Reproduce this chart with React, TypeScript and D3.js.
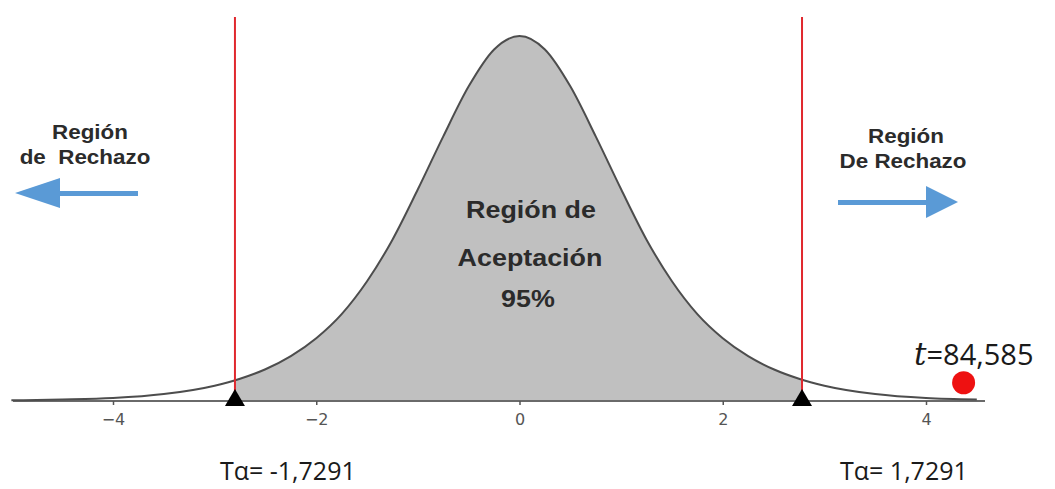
import React, { useEffect, useRef } from 'react';
import * as d3 from 'd3';

// t values along the axis and the curve height (peak = 1)
const tValues = [-5, -4.5, -4, -3.5, -3, -2.75, -2.5, -2.25, -2, -1.75, -1.5, -1.25, -1, -0.75, -0.5, -0.25, 0,
  0.25, 0.5, 0.75, 1, 1.25, 1.5, 1.75, 2, 2.25, 2.5, 2.75, 3, 3.5, 4, 4.5];
const heights = [0.002, 0.004, 0.008, 0.019, 0.042, 0.061, 0.087, 0.123, 0.172, 0.238, 0.328, 0.442, 0.58, 0.725, 0.862, 0.963, 1,
  0.963, 0.862, 0.725, 0.58, 0.442, 0.328, 0.238, 0.172, 0.123, 0.087, 0.061, 0.042, 0.019, 0.008, 0.004];

const tickValues = [-4, -2, 0, 2, 4];
// where the critical lines sit on the drawn axis, and their labels
const criticalDrawn = [-2.8, 2.78];
const criticalLabels = ['Tα= -1,7291', 'Tα= 1,7291'];
// observed statistic marker
const tStat = { x: 4.37, y: 0.05, label: '84,585' };

const W = 1055;
const H = 489;

export default function App() {
  const svgRef = useRef<SVGSVGElement>(null);

  useEffect(() => {
    if (!svgRef.current) return;
    const svg = d3.select(svgRef.current);
    svg.selectAll('*').remove();

    const x = d3.scaleLinear().domain([-4, 4]).range([113, 926]);
    const y = d3.scaleLinear().domain([0, 1]).range([401, 36]);

    const pts = tValues.map((t, i) => [t, heights[i]] as [number, number]);

    const area = d3.area<[number, number]>()
      .x(d => x(d[0]))
      .y0(y(0))
      .y1(d => y(d[1]))
      .curve(d3.curveMonotoneX);
    const line = d3.line<[number, number]>()
      .x(d => x(d[0]))
      .y(d => y(d[1]))
      .curve(d3.curveMonotoneX);

    svg.append('defs')
      .append('clipPath')
      .attr('id', 'accept-clip')
      .append('rect')
      .attr('x', x(criticalDrawn[0]))
      .attr('y', 0)
      .attr('width', x(criticalDrawn[1]) - x(criticalDrawn[0]))
      .attr('height', H);

    // acceptance region
    svg.append('path')
      .datum(pts)
      .attr('clip-path', 'url(#accept-clip)')
      .attr('fill', '#c0c0c0')
      .attr('d', area);

    // axis line
    svg.append('line')
      .attr('x1', 13).attr('x2', 985)
      .attr('y1', y(0)).attr('y2', y(0))
      .attr('stroke', '#6a6a6a')
      .attr('stroke-width', 2);

    // density curve
    svg.append('path')
      .datum(pts)
      .attr('fill', 'none')
      .attr('stroke', '#4d4d4d')
      .attr('stroke-width', 2)
      .attr('d', line);

    // ticks
    const axis = d3.axisBottom(x).tickValues(tickValues).tickSize(4).tickPadding(9);
    const ax = svg.append('g').attr('transform', `translate(0,${y(0)})`).call(axis);
    ax.select('.domain').remove();
    ax.selectAll('.tick line').attr('stroke', '#555').attr('stroke-width', 1.5);
    ax.selectAll('.tick text')
      .attr('fill', '#555')
      .attr('font-family', 'DejaVu Sans, sans-serif')
      .attr('font-size', 16);

    // critical lines + triangles
    criticalDrawn.forEach(c => {
      svg.append('line')
        .attr('x1', x(c)).attr('x2', x(c))
        .attr('y1', 17).attr('y2', y(0))
        .attr('stroke', '#e0282e')
        .attr('stroke-width', 2);
      svg.append('path')
        .attr('d', `M${x(c)},${y(0) - 12} L${x(c) + 10},${y(0) + 5} L${x(c) - 10},${y(0) + 5} Z`)
        .attr('fill', '#000');
    });

    // critical labels
    svg.append('text')
      .attr('x', x(criticalDrawn[0]) - 15).attr('y', 480)
      .attr('font-family', 'Open Sans, sans-serif').attr('font-size', 25).attr('fill', '#1a1a1a')
      .text(criticalLabels[0]);
    svg.append('text')
      .attr('x', x(criticalDrawn[1]) + 38).attr('y', 480)
      .attr('font-family', 'Open Sans, sans-serif').attr('font-size', 25).attr('fill', '#1a1a1a')
      .text(criticalLabels[1]);

    // observed t
    svg.append('circle')
      .attr('cx', x(tStat.x)).attr('cy', y(tStat.y))
      .attr('r', 11.5)
      .attr('fill', '#ee1111');
    const tt = svg.append('text')
      .attr('x', 914).attr('y', 365)
      .attr('font-size', 29).attr('fill', '#1a1a1a');
    tt.append('tspan')
      .attr('font-family', 'DejaVu Serif, serif').attr('font-style', 'italic')
      .attr('font-size', 31)
      .text('t');
    tt.append('tspan')
      .attr('font-family', 'Open Sans, sans-serif')
      .text('=' + tStat.label);

    // region labels
    const boldText = (cx: number, cy: number, size: number, s: string) =>
      svg.append('text')
        .attr('transform', `translate(${cx},${cy}) scale(1.12,1)`)
        .attr('text-anchor', 'middle')
        .attr('font-family', 'Liberation Sans, Arial, sans-serif')
        .attr('font-weight', 'bold')
        .attr('font-size', size)
        .attr('fill', '#2b2b2b')
        .text(s);

    boldText(90, 139, 20, 'Región');
    boldText(85, 164, 20, 'de\u00a0\u00a0Rechazo');
    boldText(906, 143, 20, 'Región');
    boldText(903, 168, 20, 'De Rechazo');
    boldText(531, 218, 24, 'Región de');
    boldText(530, 266, 24, 'Aceptación');
    boldText(528, 307, 24, '95%');

    // arrows
    const blue = '#5a9ad6';
    svg.append('path')
      .attr('d', 'M138,191 L60,191 L60,178 L15,193 L60,208 L60,196 L138,196 Z')
      .attr('fill', blue);
    svg.append('path')
      .attr('d', 'M838,200 L926,200 L926,186 L958,202 L926,218 L926,205 L838,205 Z')
      .attr('fill', blue);
  }, []);

  return (
    <svg
      ref={svgRef}
      width={W}
      height={H}
      style={{ position: 'absolute', left: 0, top: 0, background: '#fff' }}
    />
  );
}
